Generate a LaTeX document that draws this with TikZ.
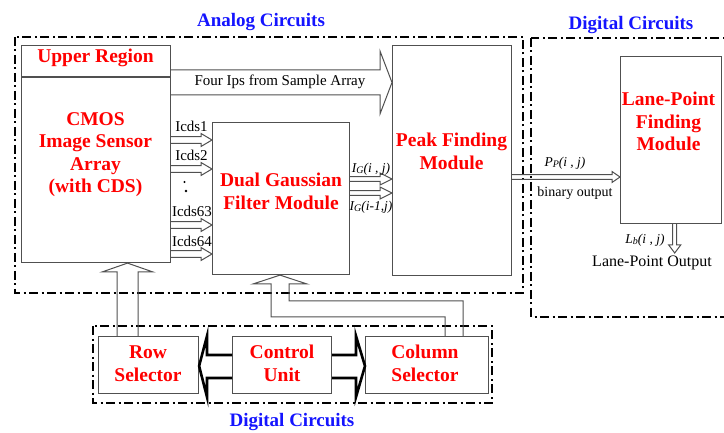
\documentclass[tikz,border=0pt]{standalone}
\usepackage{fontspec}
\setmainfont{Liberation Serif}
\usetikzlibrary{calc}
\definecolor{myred}{RGB}{255,0,0}
\definecolor{myblue}{RGB}{20,20,255}
\definecolor{boxgray}{RGB}{80,80,80}
\tikzset{
  box/.style={draw=boxgray, line width=1.1pt, inner sep=0pt, anchor=north west},
  redtxt/.style={text=myred, font=\fontsize{19.5}{22.5}\selectfont\bfseries, align=center, inner sep=0pt},
  bluetxt/.style={text=myblue, font=\fontsize{19}{22}\selectfont\bfseries, inner sep=0pt},
  lbl/.style={font=\fontsize{15}{17}\selectfont, inner sep=0pt},
  slbl/.style={font=\fontsize{13.5}{15}\selectfont, inner sep=0pt},
  arr/.style={draw=boxgray, line width=1pt, line join=miter},
  fat/.style={draw=black, line width=2.6pt, line join=miter},
  ddbox/.style={draw=black, line width=2.6pt, dash pattern=on 9pt off 3.5pt on 2pt off 3.5pt},
}
\newcommand\subG[1]{\raisebox{-0.25ex}{\fontsize{10}{10}\selectfont #1}}
% hollow right arrow: from anchor #1 to anchor #2 at height #3, shaft half #4, head half #5, head length #6
\newcommand\hArrowR[6]{%
  \draw[arr] (#1 |- 0,#3-#4) -- ($(#2 |- 0,#3-#4)+(-#6,0)$) -- ($(#2 |- 0,#3-#5)+(-#6,0)$)
    -- (#2 |- 0,#3) -- ($(#2 |- 0,#3+#5)+(-#6,0)$) -- ($(#2 |- 0,#3+#4)+(-#6,0)$) -- (#1 |- 0,#3+#4);}
\begin{document}
\begin{tikzpicture}[x=1pt,y=-1pt]
\clip (0,0) rectangle (724,433);
\fill[white] (0,0) rectangle (724,433);

% group frames
\draw[ddbox] (15,37) rectangle (523,293);
\draw[ddbox, line width=2pt] (531,38) rectangle (760,317);
\draw[ddbox, line width=2.4pt] (93,326) rectangle (492,403);
\node[bluetxt] (lanalog) at (261,22) {Analog Circuits};
\node[bluetxt] (ldigr) at (631,25) {Digital Circuits};
\node[bluetxt] (ldigb) at (292,422) {Digital Circuits};

% boxes
\node[box, minimum width=149pt, minimum height=217pt] (sensor) at (21,45) {};
\node[box, minimum width=137pt, minimum height=152pt] (dg) at (212,122) {};
\node[box, minimum width=119pt, minimum height=230pt] (peak) at (392,45) {};
\node[box, minimum width=101pt, minimum height=167pt] (lane) at (620,56) {};
\node[box, minimum width=100pt, minimum height=57pt] (rowsel) at (98,336) {};
\node[box, minimum width=99pt, minimum height=57pt] (ctrl) at (232,336) {};
\node[box, minimum width=123pt, minimum height=57pt] (colsel) at (365,336) {};
\draw[draw=boxgray, line width=2pt] (sensor.west |- 0,77) -- (sensor.east |- 0,77);

% box texts
\node[redtxt] (tupper) at (95.5,58) {Upper Region};
\node[redtxt] (tsensor) at (95.5,154.5) {CMOS\\Image Sensor\\Array\\(with CDS)};
\node[redtxt] (tdg) at (281,191.5) {Dual Gaussian\\Filter Module};
\node[redtxt] (tpeak) at (451.5,151.5) {Peak Finding\\Module};
\node[redtxt] (tlane) at (668.5,121.5) {Lane-Point\\Finding\\Module};
\node[redtxt] (trow) at (148,363.5) {Row\\Selector};
\node[redtxt] (tctrl) at (282,363.5) {Control\\Unit};
\node[redtxt] (tcol) at (425,363.5) {Column\\Selector};

% big arrow
\hArrowR{sensor.east}{peak.west}{82.5}{12.5}{31.5}{12}
\node[lbl] (tfour) at (280,82) {Four Ips from Sample Array};

% Icds arrows
\hArrowR{sensor.east}{dg.west}{140}{3.3}{6.5}{11}
\hArrowR{sensor.east}{dg.west}{169}{3.3}{6.5}{11}
\hArrowR{sensor.east}{dg.west}{225}{3.3}{6.5}{11}
\hArrowR{sensor.east}{dg.west}{254}{3.3}{6.5}{11}
\node[lbl] (ic1) at (191.5,126) {Icds1};
\node[lbl] (ic2) at (191.5,155) {Icds2};
\node[lbl] (ic63) at (192,211) {Icds63};
\node[lbl] (ic64) at (192,241) {Icds64};
\fill (184.5,182) circle (1.1);
\fill (186,191) circle (1.4);

% DG outputs
\hArrowR{dg.east}{peak.west}{179}{2.3}{6}{12}
\hArrowR{dg.east}{peak.west}{193}{2.3}{6}{12}
\node[slbl] (ig1) at (371,169) {\itshape I\subG{G}(i , j)};
\node[slbl] (ig2) at (371,207) {\itshape I\subG{G}(i-1,j)};

% peak to lane
\hArrowR{peak.east}{lane.west}{177}{2.3}{5.5}{8}
\node[slbl] (tpp) at (565,163) {\itshape P\subG{P}(i , j)};
\node[font=\fontsize{14}{16}\selectfont, inner sep=0pt] (tbin) at (575,193) {binary output};

% lane output
\coordinate (lbout) at (674.7,253);
\draw[arr] (672.7,0 |- lane.south) -- (672.7,245) -- (668.7,245) -- (lbout) -- (680.7,245) -- (676.7,245) -- (676.7,0 |- lane.south);
\node[slbl] (tlb) at (645,240) {\itshape L\subG{b}(i , j)};
\node[font=\fontsize{16}{18}\selectfont, inner sep=0pt] (tlpo) at (652,263) {Lane-Point Output};

% row selector to sensor
\draw[arr] (117,0 |- rowsel.north) -- (117,272) -- (102,272) -- (127.5,0 |- sensor.south) -- (153,272) -- (138,272) -- (138,0 |- rowsel.north);

% column selector to DG
\draw[arr] (445,0 |- colsel.north) -- (445,317) -- (271,317) -- (271,284) -- (253,284) -- (280,0 |- dg.south)
  -- (307,284) -- (289,284) -- (289,301) -- (463,301) -- (463,0 |- colsel.north);

% control unit fat arrows
\draw[fat] (ctrl.west |- 0,355) -- (207,355) -- (207,336) -- (rowsel.east |- 0,366) -- (207,397) -- (207,378) -- (ctrl.west |- 0,378);
\draw[fat] (ctrl.east |- 0,355) -- (356,355) -- (356,336) -- (colsel.west |- 0,366) -- (356,397) -- (356,378) -- (ctrl.east |- 0,378);
\end{tikzpicture}
\end{document}
